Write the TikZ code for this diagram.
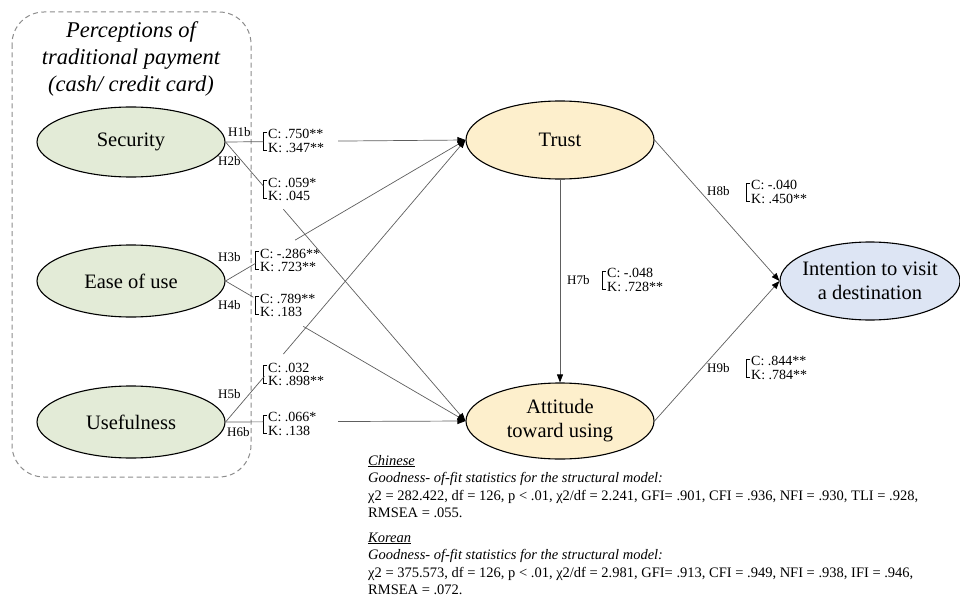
\documentclass[tikz,border=0pt]{standalone}
\usepackage{fontspec}
\setmainfont{Liberation Serif}
\usetikzlibrary{shapes.geometric,arrows.meta,calc}
\definecolor{gfill}{HTML}{E3EBD7}
\definecolor{ofill}{HTML}{FDEFCC}
\definecolor{bfill}{HTML}{DDE5F4}
\definecolor{lncol}{HTML}{5E5E5E}
\definecolor{dashcol}{HTML}{8C8C8C}
\tikzset{
  ell/.style={ellipse, draw=black, line width=1.1pt, inner sep=0pt, minimum width=188pt, minimum height=72pt},
  etxt/.style={font=\fontsize{20.5}{24}\selectfont, align=center, inner sep=0pt},
  ttl/.style={font=\fontsize{22.5}{27}\selectfont\itshape, inner sep=0pt, anchor=base},
  conn/.style={draw=lncol, line width=0.7pt},
  arr/.style={-{Triangle[length=8pt,width=6pt,color=black]}},
  lab/.style={font=\fontsize{14}{13.5}\selectfont, align=left, inner sep=0pt, anchor=west},
  hlab/.style={font=\fontsize{13}{13}\selectfont, inner sep=0pt, anchor=base west},
  brk/.style={draw=black, line width=0.8pt},
  foot/.style={font=\fontsize{14.5}{14.5}\selectfont, inner sep=0pt, anchor=base west},
}
\newcommand\brlab[5]{%
  \node[lab] (#1) at (#2+5,#3) {#4\\#5};
  \draw[brk] (#2+4,#3-9) -- (#2,#3-9) -- (#2,#3+9) -- (#2+4,#3+9);
}
\begin{document}
\begin{tikzpicture}[x=1pt,y=-1pt]
\useasboundingbox (0,0) rectangle (960,596);
% group box
\draw[draw=dashcol, line width=1pt, dash pattern=on 5pt off 3.5pt, rounded corners=32pt] (12,12) rectangle (251,477);
\node[ttl] (t1) at (131,38) {Perceptions of};
\node[ttl] (t2) at (131,65) {traditional payment};
\node[ttl] (t3) at (131,92) {(cash/ credit card)};
% constructs
\node[ell, fill=gfill, minimum height=70pt] (sec) at (131,142) {};
\node[etxt] at (sec.center) {Security};
\node[ell, fill=gfill] (ease) at (131,281) {};
\node[etxt] at (ease.center) {Ease of use};
\node[ell, fill=gfill] (use) at (131,422) {};
\node[etxt] at (use.center) {Usefulness};
\node[ell, fill=ofill, minimum height=78pt] (trust) at (560,140) {};
\node[etxt] at (trust.center) {Trust};
\node[ell, fill=ofill, minimum height=76pt] (att) at (560,421) {};
\node[etxt] at (att.center) {Attitude\\toward using};
\node[ell, fill=bfill, minimum width=180pt, minimum height=78pt] (int) at (870,281) {};
\node[etxt] at (int.center) {Intention to visit\\a destination};
% path labels
\brlab{l1}{263}{141}{C: .750**}{K: .347**}
\brlab{l2}{263}{189.5}{C: .059*}{K: .045}
\brlab{l3}{255}{260.5}{C: -.286**}{K: .723**}
\brlab{l4}{255}{305.5}{C: .789**}{K: .183}
\brlab{l5}{263}{374.5}{C: .032}{K: .898**}
\brlab{l6}{263}{424}{C: .066*}{K: .138}
\brlab{l7}{602}{280}{C: -.048}{K: .728**}
\brlab{l8}{746}{192}{C: -.040}{K: .450**}
\brlab{l9}{746}{368}{C: .844**}{K: .784**}
\node[hlab] (h1) at (228,137) {H1b};
\node[hlab] (h2) at (218,166) {H2b};
\node[hlab] (h3) at (218,261) {H3b};
\node[hlab] (h4) at (218,309) {H4b};
\node[hlab] (h5) at (218,398) {H5b};
\node[hlab] (h6) at (227,436) {H6b};
\node[hlab] (h7) at (567,284) {H7b};
\node[hlab] (h8) at (707,196) {H8b};
\node[hlab] (h9) at (707,372) {H9b};
% connectors (interrupted by the coefficient labels)
\draw[conn] (sec.east) -- ($(sec.east)!0.158!(trust.west)$);
\draw[conn,arr] ($(sec.east)!0.469!(trust.west)$) -- (trust.west);
\draw[conn] (sec.east) -- ($(sec.east)!0.158!(att.west)$);
\draw[conn,arr] ($(sec.east)!0.241!(att.west)$) -- (att.west);
\draw[conn] (ease.east) -- ($(ease.east)!0.124!(trust.west)$);
\draw[conn,arr] ($(ease.east)!0.29!(trust.west)$) -- (trust.west);
\draw[conn] (ease.east) -- ($(ease.east)!0.116!(att.west)$);
\draw[conn,arr] ($(ease.east)!0.324!(att.west)$) -- (att.west);
\draw[conn] (use.east) -- ($(use.east)!0.162!(trust.west)$);
\draw[conn,arr] ($(use.east)!0.241!(trust.west)$) -- (trust.west);
\draw[conn] (use.east) -- ($(use.east)!0.158!(att.west)$);
\draw[conn,arr] ($(use.east)!0.469!(att.west)$) -- (att.west);
\draw[conn,arr] (trust.south) -- (att.north);
\draw[conn,arr] (trust.east) -- (int.west);
\draw[conn,arr] (att.east) -- (int.west);
% fit statistics
\node[foot] (f1) at (368,465) {\underline{\itshape Chinese}};
\node[foot] (f2) at (368,482) {\itshape Goodness- of-fit statistics for the structural model:};
\node[foot] (f3) at (368,500) {χ2 = 282.422, df = 126, p < .01, χ2/df = 2.241, GFI= .901, CFI = .936, NFI = .930, TLI = .928,};
\node[foot] (f4) at (368,517) {RMSEA = .055.};
\node[foot] (f5) at (368,542) {\underline{\itshape Korean}};
\node[foot] (f6) at (368,559) {\itshape Goodness- of-fit statistics for the structural model:};
\node[foot] (f7) at (368,577) {χ2 = 375.573, df = 126, p < .01, χ2/df = 2.981, GFI= .913, CFI = .949, NFI = .938, IFI = .946,};
\node[foot] (f8) at (368,594) {RMSEA = .072.};
\end{tikzpicture}
\end{document}
